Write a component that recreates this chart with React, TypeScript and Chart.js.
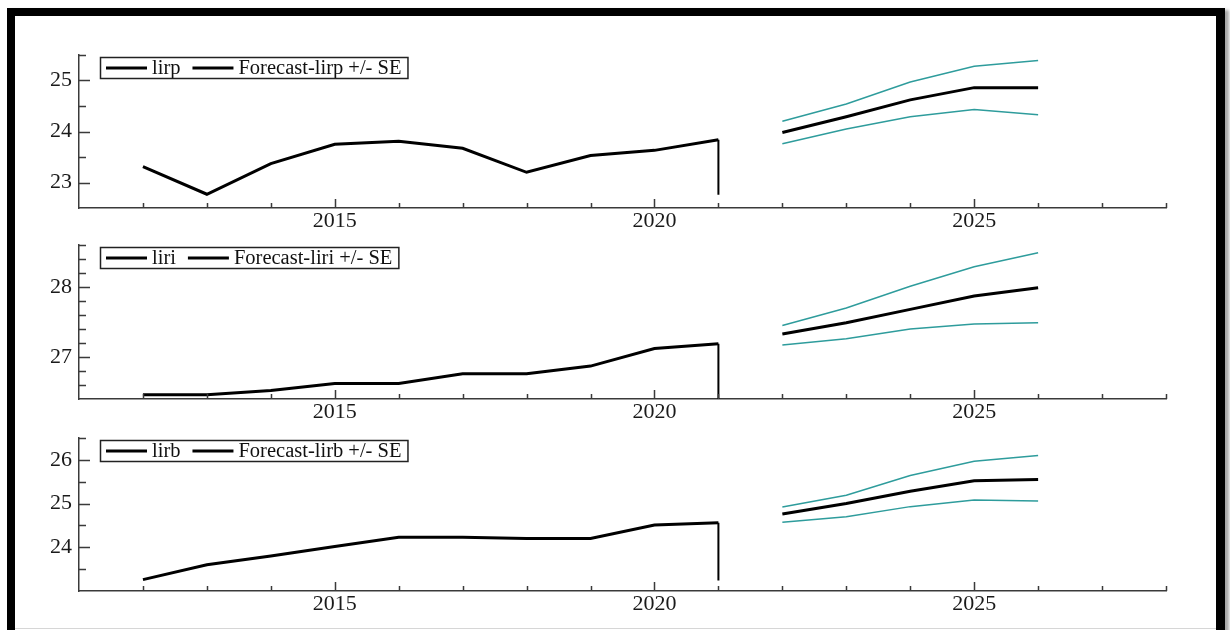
import React, { useEffect, useRef } from "react";
import { Chart, registerables } from "chart.js";

Chart.register(...registerables);

// ---- shared time axis ----
const years = [2012, 2013, 2014, 2015, 2016, 2017, 2018, 2019, 2020, 2021];
const forecastYears = [2022, 2023, 2024, 2025, 2026];
const xTickYears = [2015, 2020, 2025];
const xMin = 2011;
const xMax = 2028;

// ---- lirp ----
const lirpActual = [23.31, 22.77, 23.37, 23.75, 23.81, 23.67, 23.2, 23.53, 23.63, 23.84];
const lirpForecast = [23.98, 24.29, 24.62, 24.86, 24.86];
const lirpUpper = [24.2, 24.54, 24.97, 25.28, 25.39];
const lirpLower = [23.76, 24.05, 24.29, 24.43, 24.33];
const lirpMarkerLow = 22.76;
const lirpYTicks = [23, 24, 25];
const lirpYRange = [22.5, 25.5];
const lirpYMinorStep = 0.5;

// ---- liri ----
const liriActual = [26.46, 26.46, 26.52, 26.62, 26.62, 26.76, 26.76, 26.87, 27.12, 27.19];
const liriForecast = [27.33, 27.49, 27.68, 27.87, 27.99];
const liriUpper = [27.45, 27.7, 28.01, 28.29, 28.49];
const liriLower = [27.17, 27.26, 27.4, 27.47, 27.49];
const liriMarkerLow = 26.4;
const liriYTicks = [27, 28];
const liriYRange = [26.4, 28.6];
const liriYMinorStep = 0.2;

// ---- lirb ----
const lirbActual = [23.26, 23.6, 23.8, 24.02, 24.23, 24.23, 24.2, 24.2, 24.51, 24.56];
const lirbForecast = [24.76, 25.0, 25.28, 25.52, 25.55];
const lirbUpper = [24.92, 25.19, 25.64, 25.97, 26.1];
const lirbLower = [24.57, 24.7, 24.93, 25.08, 25.06];
const lirbMarkerLow = 23.24;
const lirbYTicks = [24, 25, 26];
const lirbYRange = [23.0, 26.5];
const lirbYMinorStep = 0.5;

const TEAL = "#2e9c9c";
const AXIS = "#3a3a3a";
const SERIF = "'Liberation Serif', 'DejaVu Serif', serif";

type Panel = {
  name: string;
  actual: number[];
  forecast: number[];
  upper: number[];
  lower: number[];
  markerLow: number;
  yTicks: number[];
  yRange: number[];
  yMinorStep: number;
  top: number;
  plotHeight: number;
};

const panels: Panel[] = [
  { name: "lirp", actual: lirpActual, forecast: lirpForecast, upper: lirpUpper, lower: lirpLower, markerLow: lirpMarkerLow, yTicks: lirpYTicks, yRange: lirpYRange, yMinorStep: lirpYMinorStep, top: 55, plotHeight: 153 },
  { name: "liri", actual: liriActual, forecast: liriForecast, upper: liriUpper, lower: liriLower, markerLow: liriMarkerLow, yTicks: liriYTicks, yRange: liriYRange, yMinorStep: liriYMinorStep, top: 245, plotHeight: 154 },
  { name: "lirb", actual: lirbActual, forecast: lirbForecast, upper: lirbUpper, lower: lirbLower, markerLow: lirbMarkerLow, yTicks: lirbYTicks, yRange: lirbYRange, yMinorStep: lirbYMinorStep, top: 438, plotHeight: 153 },
];

const PAD_TOP = 6;
const X_AXIS_H = 28;
const Y_AXIS_W = 79;
const CANVAS_W = 1230;
const PLOT_RIGHT = 1166;

// Inward-pointing tick marks on both axes.
const innerTicks = {
  id: "innerTicks",
  afterDraw(chart: any, _args: any, opts: any) {
    const { ctx, chartArea } = chart;
    const xs = chart.scales.x;
    const ys = chart.scales.y;
    ctx.save();
    ctx.strokeStyle = AXIS;
    ctx.lineWidth = 1.5;
    ctx.beginPath();
    for (let yr = xMin + 1; yr <= xMax; yr++) {
      const px = Math.round(xs.getPixelForValue(yr)) + 0.5;
      const len = xTickYears.includes(yr) ? 9 : 5;
      ctx.moveTo(px, chartArea.bottom);
      ctx.lineTo(px, chartArea.bottom - len);
    }
    const [lo, hi] = opts.range;
    const step = opts.step;
    const n = Math.round((hi - lo) / step);
    for (let i = 1; i <= n; i++) {
      const v = lo + i * step;
      const py = Math.round(ys.getPixelForValue(v)) + 0.5;
      const major = opts.major.some((m: number) => Math.abs(m - v) < 1e-6);
      const len = major ? 11 : 7;
      ctx.moveTo(chartArea.left, py);
      ctx.lineTo(chartArea.left + len, py);
    }
    ctx.stroke();
    ctx.restore();
  },
};

// Boxed legend in the upper-left corner of the plot.
const boxLegend = {
  id: "boxLegend",
  afterDraw(chart: any, _args: any, opts: any) {
    const { ctx, chartArea } = chart;
    const labels: string[] = opts.labels;
    ctx.save();
    ctx.font = `20.5px ${SERIF}`;
    ctx.textBaseline = "middle";
    const left = chartArea.left + 21;
    const top = chartArea.top + 2;
    const h = 21;
    const lineLen = 41;
    let x = left + 6;
    const cy = top + h / 2 + 0.5;
    labels.forEach((lab, i) => {
      if (i > 0) x += 12;
      ctx.strokeStyle = "#000";
      ctx.lineWidth = 3;
      ctx.beginPath();
      ctx.moveTo(x, cy);
      ctx.lineTo(x + lineLen, cy);
      ctx.stroke();
      x += lineLen + 5;
      ctx.fillStyle = "#111";
      ctx.fillText(lab, x, cy + 1);
      x += ctx.measureText(lab).width;
    });
    const w = x + 6 - left;
    ctx.strokeStyle = "#222";
    ctx.lineWidth = 1.5;
    ctx.strokeRect(left + 0.5, top + 0.5, w, h);
    ctx.restore();
  },
};

function PanelChart({ panel }: { panel: Panel }) {
  const ref = useRef<HTMLCanvasElement | null>(null);
  const height = PAD_TOP + panel.plotHeight + X_AXIS_H;

  useEffect(() => {
    if (!ref.current) return;
    const last = years.length - 1;
    const pts = (xs: number[], ys: number[]) => xs.map((x, i) => ({ x, y: ys[i] }));
    const chart = new Chart(ref.current, {
      type: "line",
      data: {
        datasets: [
          { label: panel.name, data: pts(years, panel.actual), borderColor: "#000", borderWidth: 3 },
          {
            label: "marker",
            data: [
              { x: years[last], y: panel.actual[last] },
              { x: years[last], y: panel.markerLow },
            ],
            borderColor: "#000",
            borderWidth: 2,
          },
          { label: "upper", data: pts(forecastYears, panel.upper), borderColor: TEAL, borderWidth: 1.5 },
          { label: "lower", data: pts(forecastYears, panel.lower), borderColor: TEAL, borderWidth: 1.5 },
          { label: `Forecast-${panel.name}`, data: pts(forecastYears, panel.forecast), borderColor: "#000", borderWidth: 3 },
        ],
      },
      options: {
        animation: false,
        responsive: false,
        devicePixelRatio: 1,
        layout: { padding: { top: PAD_TOP, right: CANVAS_W - PLOT_RIGHT, left: 0, bottom: 0 } },
        elements: { point: { radius: 0 }, line: { tension: 0, borderJoinStyle: "miter" } },
        plugins: {
          legend: { display: false },
          tooltip: { enabled: false },
          innerTicks: { range: panel.yRange, step: panel.yMinorStep, major: panel.yTicks },
          boxLegend: { labels: [panel.name, `Forecast-${panel.name} +/- SE`] },
        } as any,
        scales: {
          x: {
            type: "linear",
            min: xMin,
            max: xMax,
            grid: { display: true, drawOnChartArea: false, drawTicks: false },
            border: { display: true, color: AXIS, width: 1.5 },
            afterBuildTicks: (s: any) => {
              s.ticks = xTickYears.map((v) => ({ value: v }));
            },
            afterFit: (s: any) => {
              s.height = X_AXIS_H;
              s.paddingLeft = 0;
              s.paddingRight = 0;
            },
            ticks: {
              padding: 0,
              color: "#1a1a1a",
              font: { family: SERIF, size: 22 },
              maxRotation: 0,
              autoSkip: false,
              callback: (v: any) => String(v),
            },
          },
          y: {
            type: "linear",
            min: panel.yRange[0],
            max: panel.yRange[1],
            grid: { display: true, drawOnChartArea: false, drawTicks: false },
            border: { display: true, color: AXIS, width: 1.5 },
            afterBuildTicks: (s: any) => {
              s.ticks = panel.yTicks.map((v) => ({ value: v }));
            },
            afterFit: (s: any) => {
              s.width = Y_AXIS_W;
              s.paddingTop = 0;
              s.paddingBottom = 0;
            },
            ticks: {
              padding: 7,
              color: "#1a1a1a",
              font: { family: SERIF, size: 22 },
              autoSkip: false,
              callback: (v: any) => String(v),
            },
          },
        },
      },
      plugins: [innerTicks, boxLegend],
    });
    return () => chart.destroy();
  }, [panel]);

  return (
    <canvas
      ref={ref}
      width={CANVAS_W}
      height={height}
      style={{ position: "absolute", left: 0, top: panel.top - PAD_TOP, width: CANVAS_W, height }}
    />
  );
}

export default function App() {
  return (
    <div style={{ position: "absolute", left: 0, top: 0, width: 1230, height: 630, background: "#fff", overflow: "hidden" }}>
      <div
        style={{
          position: "absolute",
          left: 7,
          top: 8,
          width: 1218,
          height: 660,
          boxSizing: "border-box",
          borderLeft: "8px solid #000",
          borderTop: "8px solid #000",
          borderRight: "9px solid #000",
          boxShadow: "4px 2px 3px rgba(0,0,0,0.35)",
        }}
      />
      <div style={{ position: "absolute", left: 15, top: 628, width: 1201, height: 1, background: "#d6d6d6" }} />
      {panels.map((p) => (
        <PanelChart key={p.name} panel={p} />
      ))}
    </div>
  );
}
